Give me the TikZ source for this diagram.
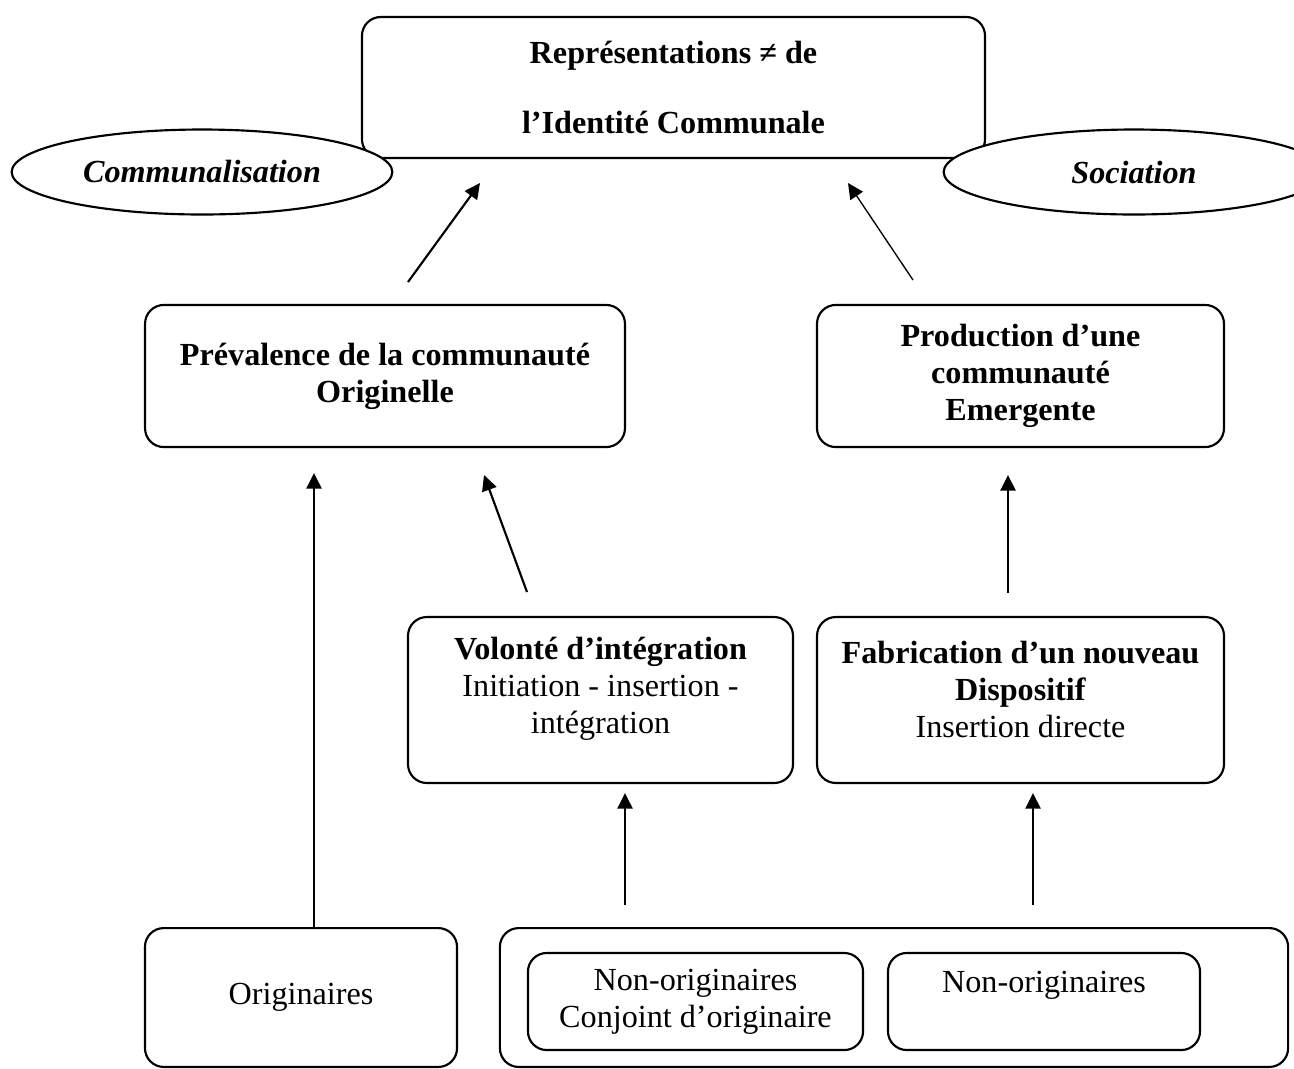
\documentclass[tikz,border=0pt]{standalone}
\usepackage{fontspec}
\setmainfont{Liberation Serif}
\usetikzlibrary{shapes.geometric,arrows.meta}

\newcommand\bodyfont{\fontsize{12}{13.8}\selectfont}

\tikzset{
    box/.style={draw,line width=0.8pt,rounded corners=7pt,align=center,inner sep=0pt,font=\bodyfont},
    boldbox/.style={box,font=\bodyfont\bfseries},
    oval/.style={draw,ellipse,line width=0.8pt,fill=white,inner sep=0pt,
        minimum width=142pt,minimum height=31.7pt,font=\bodyfont\bfseries\itshape},
    txt/.style={align=center,inner sep=0pt,font=\bodyfont},
    arr/.style={-{Triangle[length=5.8pt,width=5.6pt]},line width=0.8pt},
}

\begin{document}
\begin{tikzpicture}[x=0.373pt,y=-0.373pt]
    \useasboundingbox (0,0) rectangle (1294,1068);
    % top
    \node[boldbox,minimum width=232.4pt,minimum height=52.6pt] (repr) at (673.5,87.5)
        {Représentations ≠ de\\[12.3pt]l’Identité Communale};
    \node[oval] (comm) at (202,172) {Communalisation};
    \node[oval] (soc) at (1134,172) {Sociation};
    % middle
    \node[boldbox,minimum width=179pt,minimum height=53pt] (prev) at (385,376)
        {Prévalence de la communauté\\Originelle};
    \node[boldbox,minimum width=151.8pt,minimum height=53pt] (prod) at (1020.5,376)
        {Production d’une\\communauté\\Emergente};
    \node[box,minimum width=143.6pt,minimum height=61.9pt] (vol) at (600.5,700) {};
    \node[txt] at (600.5,689) {\textbf{Volonté d’intégration}\\Initiation - insertion -\\intégration};
    \node[box,minimum width=151.8pt,minimum height=61.9pt] (fab) at (1020.5,700) {};
    \node[txt] at (1020.5,689) {\textbf{Fabrication d’un nouveau}\\\textbf{Dispositif}\\Insertion directe};
    % bottom
    \node[box,minimum width=116.4pt,minimum height=51.8pt] (orig) at (301,997.5) {Originaires};
    \node[box,minimum width=294pt,minimum height=51.8pt] (nonorig) at (894,997.5) {};
    \node[box,minimum width=125pt,minimum height=36.2pt] (conj) at (695.5,1001.5)
        {Non-originaires\\Conjoint d’originaire};
    \node[box,minimum width=116.4pt,minimum height=36.2pt] (direct) at (1044,1001.5) {};
    \node[txt] at (1044,985) {Non-originaires};
    % arrows
    \coordinate (a1s) at (408,282);
    \coordinate (a1e) at (480,183);
    \coordinate (a2s) at (913,280);
    \coordinate (a2e) at (848,183);
    \draw[arr] (a1s) -- (a1e);
    \draw[arr,line width=0.5pt] (a2s) -- (a2e);
    \coordinate (b1e) at (314,473);
    \coordinate (b2s) at (527,592);
    \coordinate (b2e) at (484,475);
    \coordinate (b3s) at (1008,593);
    \coordinate (b3e) at (1008,475);
    \draw[arr] (orig.north -| b1e) -- (b1e);
    \draw[arr] (b2s) -- (b2e);
    \draw[arr] (b3s) -- (b3e);
    \coordinate (c1s) at (625,905);
    \coordinate (c1e) at (625,793);
    \coordinate (c2s) at (1033,905);
    \coordinate (c2e) at (1033,793);
    \draw[arr] (c1s) -- (c1e);
    \draw[arr] (c2s) -- (c2e);
\end{tikzpicture}
\end{document}
